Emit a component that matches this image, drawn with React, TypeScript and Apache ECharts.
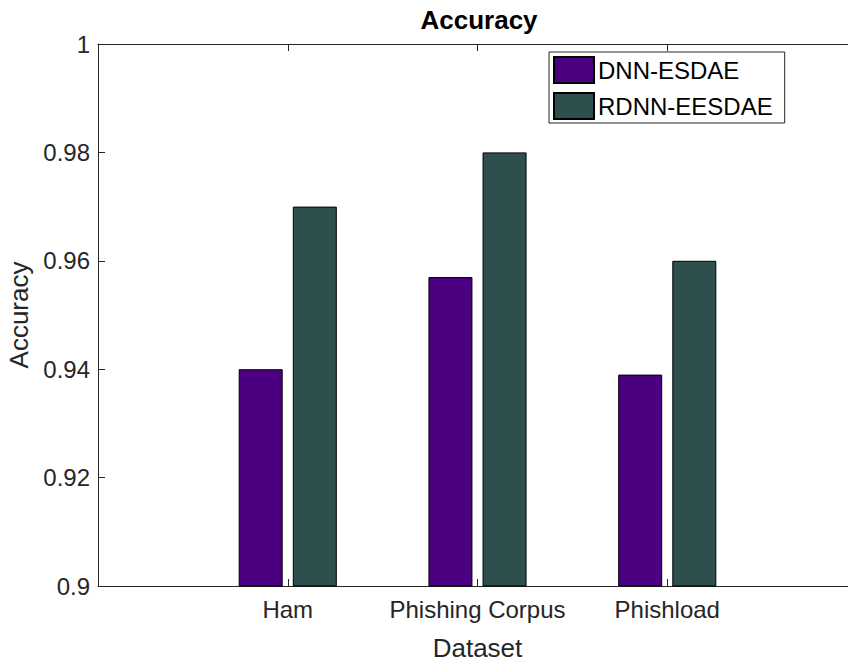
import React, { useEffect, useRef } from "react";
import * as echarts from "echarts";

const categories = ["Ham", "Phishing Corpus", "Phishload"];
const seriesNames = ["DNN-ESDAE", "RDNN-EESDAE"];
const dnnValues = [0.94, 0.957, 0.939];
const rdnnValues = [0.97, 0.98, 0.96];
const yTicks = [0.9, 0.92, 0.94, 0.96, 0.98, 1];

const FONT = "'Liberation Sans', Arial, Helvetica, sans-serif";
const AXIS_COLOR = "#262626";

export default function App() {
  const ref = useRef<HTMLDivElement>(null);

  useEffect(() => {
    if (!ref.current) return;
    const chart = echarts.init(ref.current, undefined, { renderer: "svg" });
    const axisData = ["", ...categories, ""];
    const pad = (arr: number[]) => [null, ...arr, null];

    const option: any = {
      animation: false,
      backgroundColor: "#ffffff",
      graphic: [
        {
          type: "text",
          x: 479,
          y: 20,
          style: {
            text: "Accuracy",
            font: `bold 26px ${FONT}`,
            fill: "#000000",
            textAlign: "center",
            textVerticalAlign: "middle",
          },
        },
        {
          type: "rect",
          z: 100,
          shape: { x: 838, y: 46, width: 12, height: 538 },
          style: { fill: "#ffffff" },
        },
      ],
      grid: {
        left: 98,
        top: 44,
        width: 759,
        height: 542,
        containLabel: false,
        outerBoundsMode: "none",
      },
      legend: {
        orient: "vertical",
        left: 549,
        top: 52,
        itemWidth: 40,
        itemHeight: 26,
        itemGap: 8,
        padding: [4, 12, 3, 4],
        backgroundColor: "#ffffff",
        borderColor: AXIS_COLOR,
        borderWidth: 1,
        icon: "rect",
        textStyle: { fontFamily: FONT, fontSize: 24, color: "#000000", padding: [0, 0, 0, -1] },
        data: seriesNames,
      },
      xAxis: [
        {
          type: "category",
          data: axisData,
          boundaryGap: false,
          position: "bottom",
          name: "Dataset",
          nameLocation: "middle",
          nameGap: 49,
          nameTextStyle: { fontFamily: FONT, fontSize: 26, color: AXIS_COLOR },
          axisLine: { show: true, lineStyle: { color: AXIS_COLOR, width: 1 } },
          axisTick: {
            show: true,
            inside: true,
            length: 7,
            alignWithLabel: true,
            interval: (i: number, v: string) => v !== "",
            lineStyle: { color: AXIS_COLOR },
          },
          axisLabel: {
            show: true,
            interval: 0,
            margin: 11,
            fontFamily: FONT,
            fontSize: 24,
            color: AXIS_COLOR,
          },
          splitLine: { show: false },
        },
        {
          type: "category",
          data: axisData,
          boundaryGap: false,
          position: "top",
          axisLine: { show: true, lineStyle: { color: AXIS_COLOR, width: 1 } },
          axisTick: {
            show: true,
            inside: true,
            length: 7,
            interval: (i: number, v: string) => v !== "",
            lineStyle: { color: AXIS_COLOR },
          },
          axisLabel: { show: false },
          splitLine: { show: false },
        },
      ],
      yAxis: [
        {
          type: "value",
          min: yTicks[0],
          max: yTicks[yTicks.length - 1],
          interval: 0.02,
          position: "left",
          name: "Accuracy",
          nameLocation: "middle",
          nameGap: 62,
          nameTextStyle: { fontFamily: FONT, fontSize: 26, color: AXIS_COLOR },
          axisLine: { show: true, lineStyle: { color: AXIS_COLOR, width: 1 } },
          axisTick: { show: true, inside: true, length: 7, lineStyle: { color: AXIS_COLOR } },
          axisLabel: {
            show: true,
            margin: 8,
            fontFamily: FONT,
            fontSize: 24,
            color: AXIS_COLOR,
            formatter: (v: number) => String(parseFloat(v.toFixed(2))),
          },
          splitLine: { show: false },
        },
      ],
      series: [
        {
          name: seriesNames[0],
          type: "bar",
          data: pad(dnnValues),
          barWidth: 44,
          barGap: "23%",
          itemStyle: { color: "#4B0082", borderColor: "#000000", borderWidth: 1 },
        },
        {
          name: seriesNames[1],
          type: "bar",
          data: pad(rdnnValues),
          barWidth: 44,
          barGap: "23%",
          itemStyle: { color: "#2F4F4F", borderColor: "#000000", borderWidth: 1 },
        },
      ],
    };

    chart.setOption(option);
    return () => chart.dispose();
  }, []);

  return (
    <div
      ref={ref}
      style={{ position: "fixed", left: 0, top: 0, width: 848, height: 662, background: "#fff" }}
    />
  );
}
